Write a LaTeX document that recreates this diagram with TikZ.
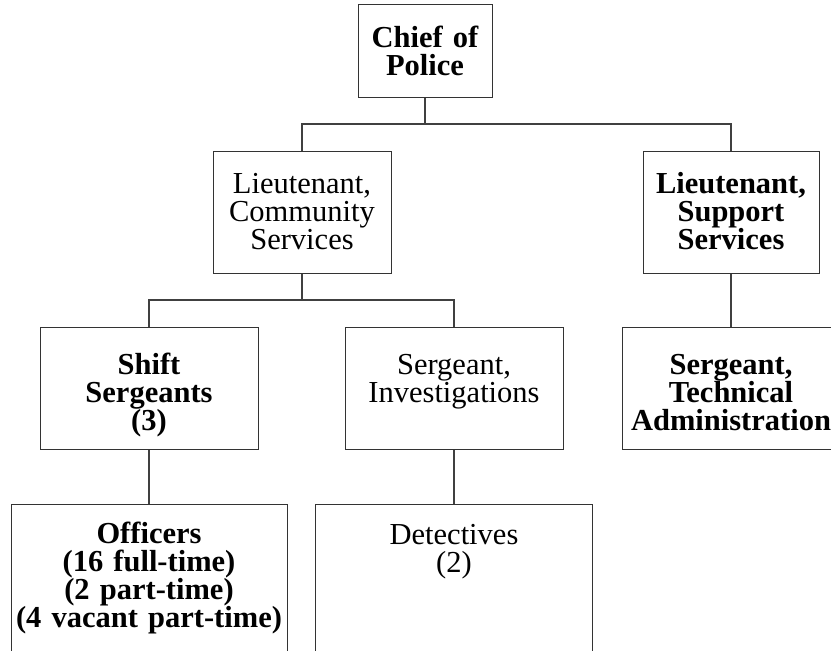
\documentclass[tikz,border=0pt]{standalone}
\usepackage{fontspec}
\setmainfont{Liberation Serif}
\usetikzlibrary{positioning}
\AtBeginDocument{\lineskiplimit=-50pt\relax\normallineskiplimit=-50pt\relax}
\tikzstyle{box} = [rectangle, draw=black!80, line width=1pt, align=center, inner sep=0pt, font=\fontsize{30.5}{28}\selectfont]
\tikzstyle{boldbox} = [box, font=\fontsize{30.5}{28}\selectfont\bfseries]
\tikzstyle{link} = [draw=black!75, line width=1.2pt]

\begin{document}
\begin{tikzpicture}
   \clip (0,0) rectangle (831pt,-651pt);
   \node (chief) [boldbox, anchor=north, text width=134pt, text height=43pt, text depth=50pt] at (425pt,-4pt) {Chief of\\Police};
   \node (ltcom) [box, below=53pt of chief, xshift=-123pt, text width=178pt, text height=42pt, text depth=80pt] {Lieutenant,\\Community\\Services};
   \node (ltsup) [boldbox, below=53pt of chief, xshift=306pt, text width=176pt, text height=42pt, text depth=80pt] {Lieutenant,\\Support\\Services};
   \node (shift) [boldbox, below=53pt of ltcom, xshift=-153pt, text width=218pt, text height=47pt, text depth=75pt] {Shift\\Sergeants\\(3)};
   \node (invest) [box, below=53pt of ltcom, xshift=152pt, text width=218pt, text height=47pt, text depth=75pt] {Sergeant,\\Investigations};
   \node (tech) [boldbox, below=53pt of ltsup, text width=218pt, text height=47pt, text depth=75pt] {Sergeant,\\Technical\\Administration};
   \node (officers) [boldbox, below=54pt of shift, text width=276pt, text height=39pt, text depth=120pt] {Officers\\(16 full-time)\\(2 part-time)\\(4 vacant part-time)};
   \node (detect) [box, below=54pt of invest, text width=277pt, text height=40pt, text depth=120pt] {Detectives\\(2)};
   \path [link] (chief.south) -- ++(0,-26pt) -| (ltcom.north);
   \path [link] (chief.south) -- ++(0,-26pt) -| (ltsup.north);
   \path [link] (ltcom.south) -- ++(0,-26pt) -| (shift.north);
   \path [link] (ltcom.south) -- ++(0,-26pt) -| (invest.north);
   \path [link] (ltsup.south) -- (tech.north);
   \path [link] (shift.south) -- (officers.north);
   \path [link] (invest.south) -- (detect.north);
\end{tikzpicture}
\end{document}
